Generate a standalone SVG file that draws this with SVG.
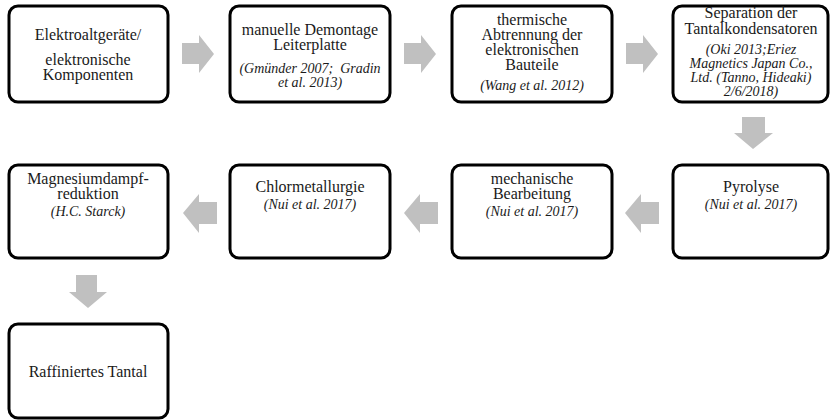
<svg xmlns="http://www.w3.org/2000/svg" width="830" height="420" viewBox="0 0 830 420">
<style>
.box{fill:#fff;stroke:#000;stroke-width:3}
.t{font-family:"Liberation Serif",serif;font-size:16px;fill:#1a1a1a;text-anchor:middle}
.c{font-family:"Liberation Serif",serif;font-size:14px;font-style:italic;fill:#1a1a1a;text-anchor:middle;white-space:pre}
.arr{fill:#c0c0c0}
</style>
<rect width="830" height="420" fill="#fff"/>
<g id="connectors">
<polygon class="arr" points="182,43 199,43 199,35 214,54 199,73 199,64 182,64"/>
<polygon class="arr" points="404,43 421,43 421,35 436,54 421,73 421,64 404,64"/>
<polygon class="arr" points="626,43 643,43 643,35 658,54 643,73 643,64 626,64"/>
<polygon class="arr" points="742,117 765,117 765,133 773,133 753,149 734,133 742,133"/>
<polygon class="arr" points="659,202 641,202 641,194 625,213 641,233 641,224 659,224"/>
<polygon class="arr" points="438,202 420,202 420,194 404,213 420,233 420,224 438,224"/>
<polygon class="arr" points="217,202 199,202 199,194 183,213 199,233 199,224 217,224"/>
<polygon class="arr" points="76,275 97,275 97,292 107,292 88,308 69,292 76,292"/>
</g>
<g id="n1">
<rect class="box" x="9" y="6" width="159" height="96" rx="9"/>
<text class="t" x="88" y="40">Elektroaltgeräte/</text>
<text class="t" x="88" y="65">elektronische</text>
<text class="t" x="88" y="80">Komponenten</text>
</g>
<g id="n2">
<rect class="box" x="230" y="6" width="160" height="96" rx="9"/>
<text class="t" x="310" y="35">manuelle Demontage</text>
<text class="t" x="310" y="50">Leiterplatte</text>
<text class="c" x="310" y="73">(Gmünder 2007;  Gradin</text>
<text class="c" x="310" y="87">et al. 2013)</text>
</g>
<g id="n3">
<rect class="box" x="452" y="6" width="160" height="96" rx="9"/>
<text class="t" x="532" y="25">thermische</text>
<text class="t" x="532" y="40">Abtrennung der</text>
<text class="t" x="532" y="55">elektronischen</text>
<text class="t" x="532" y="70">Bauteile</text>
<text class="c" x="532" y="90">(Wang et al. 2012)</text>
</g>
<g id="n4">
<rect class="box" x="673" y="6" width="155" height="96" rx="9"/>
<text class="t" x="751" y="18">Separation der</text>
<text class="t" x="751" y="34">Tantalkondensatoren</text>
<text class="c" x="751" y="54">(Oki 2013;Eriez</text>
<text class="c" x="751" y="68">Magnetics Japan Co.,</text>
<text class="c" x="751" y="82">Ltd. (Tanno, Hideaki)</text>
<text class="c" x="751" y="96">2/6/2018)</text>
</g>
<g id="n5">
<rect class="box" x="673" y="165" width="155" height="93" rx="9"/>
<text class="t" x="751" y="192">Pyrolyse</text>
<text class="c" x="751" y="209">(Nui et al. 2017)</text>
</g>
<g id="n6">
<rect class="box" x="452" y="165" width="160" height="93" rx="9"/>
<text class="t" x="532" y="184">mechanische</text>
<text class="t" x="532" y="199">Bearbeitung</text>
<text class="c" x="532" y="216">(Nui et al. 2017)</text>
</g>
<g id="n7">
<rect class="box" x="230" y="165" width="160" height="93" rx="9"/>
<text class="t" x="310" y="192">Chlormetallurgie</text>
<text class="c" x="310" y="209">(Nui et al. 2017)</text>
</g>
<g id="n8">
<rect class="box" x="9" y="165" width="159" height="93" rx="9"/>
<text class="t" x="88" y="184">Magnesiumdampf-</text>
<text class="t" x="88" y="199">reduktion</text>
<text class="c" x="88" y="216">(H.C. Starck)</text>
</g>
<g id="n9">
<rect class="box" x="9" y="324" width="159" height="94" rx="9"/>
<text class="t" x="88" y="377">Raffiniertes Tantal</text>
</g>
</svg>
